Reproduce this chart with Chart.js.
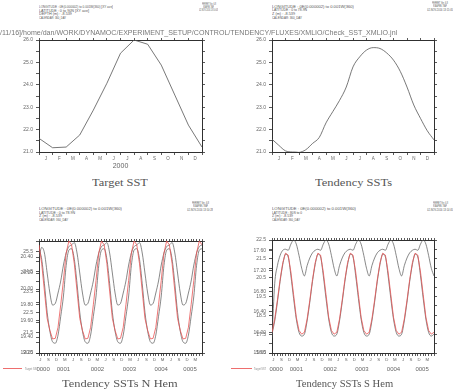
<!DOCTYPE html>
<html>
<head>
<meta charset="utf-8">
<script src="https://cdn.jsdelivr.net/npm/chart.js@4.4.1/dist/chart.umd.min.js"></script>
<style>
  html, body { margin: 0; padding: 0; background: #fff; }
  body { position: relative; width: 453px; height: 389px; overflow: hidden; }
  canvas { position: absolute; }
  .txt { position: absolute; white-space: pre; line-height: 1; transform-origin: 0 0; }
  .key { position: absolute; height: 1px; background: rgb(238, 110, 110); }
</style>
</head>
<body>
<canvas id="target" width="210" height="142" style="left:0px;top:34px"></canvas>
<canvas id="tend" width="212" height="142" style="left:230px;top:34px"></canvas>
<canvas id="nhem" width="210" height="140" style="left:0px;top:235px"></canvas>
<canvas id="shem" width="212" height="141" style="left:230px;top:234px"></canvas>
<div class="key" style="left:3px;top:368px;width:19px"></div>
<div class="key" style="left:231px;top:368px;width:21px"></div>
<script>
// ---------- data ----------
const monthLetters = ['J', 'F', 'M', 'A', 'M', 'J', 'J', 'A', 'S', 'O', 'N', 'D'];

// Target SST, year 2000 (month starts, 0 = 1 Jan)
const targetTime = [0, 1, 2, 3, 4, 5, 6, 7, 8, 9, 10, 11, 12];
const targetSst = [21.61, 21.19, 21.22, 21.76, 22.87, 24.07, 25.41, 26.00, 25.81, 24.88, 23.54, 22.20, 21.22];

// Tendency SSTs
const tendTime = [0, 0.5, 1, 1.5, 2, 2.5, 3, 3.5, 4, 4.5, 5, 5.5, 6, 6.5, 7, 7.5, 8, 8.5, 9, 9.5, 10, 10.5, 11, 11.5, 12];
const tendSst = [21.57, 21.30, 21.05, 21.00, 20.98, 21.10, 21.38, 21.65, 22.30, 22.80, 23.30, 23.90, 24.80,
                 25.25, 25.55, 25.66, 25.62, 25.42, 25.10, 24.60, 23.90, 23.10, 22.50, 21.95, 21.54];

// 5-year runs, months since Jan 0000 (Sep 0000 .. Sep 0005)
const hemTime = [];
for (let t = 8; t <= 68; t++) hemTime.push(t);

const nhTarget = [
  25.81, 24.88, 23.54, 22.20, 21.61, 21.19, 21.22, 21.76, 22.87, 24.07, 25.41, 26.00,
  25.81, 24.88, 23.54, 22.20, 21.61, 21.19, 21.22, 21.76, 22.87, 24.07, 25.41, 26.00,
  25.81, 24.88, 23.54, 22.20, 21.61, 21.19, 21.22, 21.76, 22.87, 24.07, 25.41, 26.00,
  25.81, 24.88, 23.54, 22.20, 21.61, 21.19, 21.22, 21.76, 22.87, 24.07, 25.41, 26.00,
  25.81, 24.88, 23.54, 22.20, 21.61, 21.19, 21.22, 21.76, 22.87, 24.07, 25.41, 26.00,
  25.81];
const nhRunA = [
  25.62, 25.10, 23.90, 22.50, 21.57, 21.05, 20.98, 21.38, 22.30, 23.30, 24.80, 25.55,
  25.62, 25.10, 23.90, 22.50, 21.57, 21.05, 20.98, 21.38, 22.30, 23.30, 24.80, 25.55,
  25.62, 25.10, 23.90, 22.50, 21.57, 21.05, 20.98, 21.38, 22.30, 23.30, 24.80, 25.55,
  25.62, 25.10, 23.90, 22.50, 21.57, 21.05, 20.98, 21.38, 22.30, 23.30, 24.80, 25.55,
  25.62, 25.10, 23.90, 22.50, 21.57, 21.05, 20.98, 21.38, 22.30, 23.30, 24.80, 25.55,
  25.62];
const nhRunB = [
  20.39, 20.52, 20.45, 20.20, 19.95, 19.80, 19.82, 19.95, 20.10, 20.30, 20.45, 20.53,
  20.55, 20.58, 20.45, 20.20, 19.95, 19.80, 19.82, 19.95, 20.10, 20.30, 20.45, 20.53,
  20.55, 20.58, 20.45, 20.20, 19.95, 19.80, 19.82, 19.95, 20.10, 20.30, 20.45, 20.53,
  20.55, 20.58, 20.45, 20.20, 19.95, 19.80, 19.82, 19.95, 20.10, 20.30, 20.45, 20.53,
  20.55, 20.58, 20.45, 20.20, 19.95, 19.80, 19.82, 19.95, 20.10, 20.30, 20.45, 20.53,
  20.55];

const shTarget = [
  17.6, 18.3, 19.3, 20.4, 21.3, 21.8, 21.7, 20.8, 19.6, 18.4, 17.7, 17.5,
  17.6, 18.3, 19.3, 20.4, 21.3, 21.8, 21.7, 20.8, 19.6, 18.4, 17.7, 17.5,
  17.6, 18.3, 19.3, 20.4, 21.3, 21.8, 21.7, 20.8, 19.6, 18.4, 17.7, 17.5,
  17.6, 18.3, 19.3, 20.4, 21.3, 21.8, 21.7, 20.8, 19.6, 18.4, 17.7, 17.5,
  17.6, 18.3, 19.3, 20.4, 21.3, 21.8, 21.7, 20.8, 19.6, 18.4, 17.7, 17.5,
  17.6];
const shRunA = [
  17.5, 18.2, 19.2, 20.3, 21.2, 21.75, 21.6, 20.6, 19.4, 18.3, 17.6, 17.4,
  17.5, 18.2, 19.2, 20.3, 21.2, 21.75, 21.6, 20.6, 19.4, 18.3, 17.6, 17.4,
  17.5, 18.2, 19.2, 20.3, 21.2, 21.75, 21.6, 20.6, 19.4, 18.3, 17.6, 17.4,
  17.5, 18.2, 19.2, 20.3, 21.2, 21.75, 21.6, 20.6, 19.4, 18.3, 17.6, 17.4,
  17.5, 18.2, 19.2, 20.3, 21.2, 21.75, 21.6, 20.6, 19.4, 18.3, 17.6, 17.4,
  17.5];
const shRunB = [
  15.90, 16.95, 17.30, 17.50, 17.60, 17.62, 17.60, 17.72, 17.80, 17.72, 17.50, 17.25,
  17.10, 17.30, 17.45, 17.55, 17.60, 17.62, 17.60, 17.72, 17.80, 17.72, 17.50, 17.25,
  17.10, 17.30, 17.45, 17.55, 17.60, 17.62, 17.60, 17.72, 17.80, 17.72, 17.50, 17.25,
  17.10, 17.30, 17.45, 17.55, 17.60, 17.62, 17.60, 17.72, 17.80, 17.72, 17.50, 17.25,
  17.10, 17.30, 17.45, 17.55, 17.60, 17.62, 17.60, 17.72, 17.80, 17.72, 17.50, 17.25,
  17.10];

// tick values / labels
const sstTicks = [21, 21.5, 22, 22.5, 23, 23.5, 24, 24.5, 25, 25.5, 26];
const sstLabels = [21, 22, 23, 24, 25, 26];
const nhRedTicks = [20.5, 21, 21.5, 22, 22.5, 23, 23.5, 24, 24.5, 25, 25.5, 26];
const nhRedLabels = [20.5, 21.5, 22.5, 23.5, 24.5, 25.5];
const nhGrayLabels = [19.2, 19.4, 19.6, 19.8, 20.0, 20.2, 20.4];
const shRedTicks = [16.5, 17, 17.5, 18, 18.5, 19, 19.5, 20, 20.5, 21, 21.5, 22, 22.5];
const shRedLabels = [16.5, 17.5, 18.5, 19.5, 20.5, 21.5, 22.5];
const shGrayLabels = [15.6, 16.0, 16.4, 16.8, 17.2, 17.6];
const seasonLetters = ['S', 'D', 'M', 'J'];
const yearCentres = [9.5, 17, 29.5, 41.3, 53, 63.6];
const yearLabels = ['0000', '0001', '0002', '0003', '0004', '0005'];

// ---------- helpers ----------
const AXIS = '#303030';
const LABEL = '#666';
const LINE = '#555';
const RED = 'rgb(234, 84, 84)';
const SANS = '"Liberation Sans", Arial, sans-serif';
const SERIF = '"Liberation Serif", "DejaVu Serif", serif';

const near = (a, b) => Math.abs(a - b) < 1e-6;
const labelIf = (list, digits) => (v) => (list.some((u) => near(u, v)) ? Number(v).toFixed(digits) : '');
const isWhole = (v) => near(v, Math.round(v));

function linearAxis(o) {
  const vertical = o.position === 'left' || o.position === 'right';
  return {
    type: 'linear',
    axis: vertical ? 'y' : 'x',
    position: o.position,
    weight: o.weight || 0,
    min: o.min,
    max: o.max,
    afterFit: (s) => { if (vertical) s.width = o.size; else s.height = o.size; },
    afterBuildTicks: (s) => { s.ticks = o.ticks.map((v) => ({ value: v })); },
    grid: {
      drawOnChartArea: false,
      drawTicks: o.tickLength !== 0,
      tickLength: o.tickLength === undefined ? 3 : o.tickLength,
      tickWidth: 0.8,
      tickColor: o.marks ? (c) => (c.tick && o.marks(c.tick.value) ? AXIS : 'rgba(0,0,0,0)') : AXIS,
    },
    border: { display: o.border !== false, color: AXIS, width: 1 },
    ticks: {
      display: !!o.label,
      autoSkip: false, maxRotation: 0, minRotation: 0,
      padding: o.padding === undefined ? 2 : o.padding,
      color: LABEL,
      font: { family: SANS, size: o.fontSize || 5 },
      callback: o.label || (() => ''),
    },
    title: o.title || { display: false },
  };
}

// the second left axis has no width of its own: give it the same strip as 'y'
// so both sets of labels sit side by side in the left margin, as Ferret overlays do
const overlayLeftAxis = {
  id: 'overlayLeftAxis',
  afterLayout(chart) {
    const s = chart.scales.y2;
    if (s) s.left = chart.scales.y.left;
  },
};

function series(xs, ys, color, width, yAxisID, smooth) {
  return {
    data: xs.map((x, i) => ({ x, y: ys[i] })),
    borderColor: color, borderWidth: width, pointRadius: 0, fill: false,
    xAxisID: 'x', yAxisID,
    tension: smooth ? 0.4 : 0,
    cubicInterpolationMode: smooth ? 'monotone' : 'default',
  };
}

function draw(id, datasets, scales) {
  return new Chart(document.getElementById(id), {
    type: 'line',
    data: { datasets },
    options: {
      responsive: false, animation: false, events: [],
      layout: { padding: 0 },
      plugins: { legend: { display: false }, tooltip: { enabled: false } },
      scales,
    },
    plugins: [overlayLeftAxis],
  });
}

// month ticks for a single year: boundaries carry marks, centres carry letters
const yearTicks = [];
for (let i = 0; i <= 24; i++) yearTicks.push(i / 2);
const monthBounds = yearTicks.filter(isWhole);
const monthLabel = (v) => (isWhole(v) ? '' : monthLetters[Math.floor(v)]);

// month ticks for the 5-year plots
const hemTicks = [];
for (let t = 8; t <= 68; t += 0.5) hemTicks.push(t);
const hemBounds = hemTicks.filter(isWhole);
const seasonLabel = (v) => {
  if (isWhole(v)) return '';
  const m = Math.floor(v) % 12;
  return m % 3 === 2 ? seasonLetters[((m + 1) / 3) % 4] : '';
};
const seasonTicks = hemTicks.filter((v) => isWhole(v) || Math.floor(v) % 3 === 2);
const yearLabel = (v) => yearLabels[yearCentres.findIndex((u) => near(u, v))];

// ---------- Target SST ----------
draw('target', [series(targetTime, targetSst, LINE, 0.8, 'y', false)], {
  x: linearAxis({ position: 'bottom', min: 0, max: 12, size: 24, ticks: yearTicks, marks: isWhole,
    label: monthLabel, fontSize: 4.5, padding: 1,
    title: { display: true, text: '2000', color: LABEL, font: { family: SANS, size: 7 }, padding: { top: 0, bottom: 5.5 } } }),
  xTop: linearAxis({ position: 'top', min: 0, max: 12, size: 6, ticks: monthBounds, tickLength: 2 }),
  y: linearAxis({ position: 'left', min: 21, max: 26, size: 39, ticks: sstTicks, label: labelIf(sstLabels, 1), padding: 3 }),
  yRight: linearAxis({ position: 'right', min: 21, max: 26, size: 8, ticks: sstTicks }),
});

// ---------- Tendency SSTs ----------
draw('tend', [series(tendTime, tendSst, LINE, 0.8, 'y', true)], {
  x: linearAxis({ position: 'bottom', min: 0, max: 12, size: 24, ticks: yearTicks, marks: isWhole,
    label: monthLabel, fontSize: 4.5, padding: 1 }),
  xTop: linearAxis({ position: 'top', min: 0, max: 12, size: 6, ticks: monthBounds, tickLength: 2 }),
  y: linearAxis({ position: 'left', min: 21, max: 26, size: 42, ticks: sstTicks, label: labelIf(sstLabels, 1), padding: 3 }),
  yRight: linearAxis({ position: 'right', min: 21, max: 26, size: 8, ticks: sstTicks }),
});

// ---------- Tendency SSTs N Hem ----------
draw('nhem', [
  series(hemTime, nhTarget, RED, 0.8, 'y', false),
  series(hemTime, nhRunA, LINE, 0.7, 'y', true),
  series(hemTime, nhRunB, LINE, 0.7, 'y2', true),
], {
  x: linearAxis({ position: 'bottom', weight: 0, min: 8, max: 68, size: 11, ticks: seasonTicks, marks: isWhole,
    label: seasonLabel, fontSize: 4.3, padding: 1.5 }),
  xYear: linearAxis({ position: 'bottom', weight: 1, min: 8, max: 68, size: 11, ticks: yearCentres, tickLength: 0,
    border: false, label: yearLabel, fontSize: 6, padding: 2 }),
  xTop: linearAxis({ position: 'top', min: 8, max: 68, size: 6, ticks: hemBounds, tickLength: 2 }),
  y: linearAxis({ position: 'left', weight: 1, min: 20.5, max: 26, size: 39, ticks: nhRedTicks, label: labelIf(nhRedLabels, 1), padding: 3 }),
  y2: linearAxis({ position: 'left', weight: 0, min: 19.2, max: 20.6, size: 0, ticks: nhGrayLabels, label: labelIf(nhGrayLabels, 2), padding: 3, border: false }),
  yRight: linearAxis({ position: 'right', min: 20.5, max: 26, size: 8, ticks: nhRedTicks }),
});

// ---------- Tendency SSTs S Hem ----------
draw('shem', [
  series(hemTime, shTarget, RED, 0.8, 'y', false),
  series(hemTime, shRunA, LINE, 0.7, 'y', true),
  series(hemTime, shRunB, LINE, 0.7, 'y2', true),
], {
  x: linearAxis({ position: 'bottom', weight: 0, min: 8, max: 68, size: 11, ticks: seasonTicks, marks: isWhole,
    label: seasonLabel, fontSize: 4.3, padding: 1.5 }),
  xYear: linearAxis({ position: 'bottom', weight: 1, min: 8, max: 68, size: 11, ticks: yearCentres, tickLength: 0,
    border: false, label: yearLabel, fontSize: 6, padding: 2 }),
  xTop: linearAxis({ position: 'top', min: 8, max: 68, size: 6, ticks: hemBounds, tickLength: 2 }),
  y: linearAxis({ position: 'left', weight: 1, min: 16.5, max: 22.5, size: 42, ticks: shRedTicks, label: labelIf(shRedLabels, 1), padding: 3 }),
  y2: linearAxis({ position: 'left', weight: 0, min: 15.6, max: 17.8, size: 0, ticks: shGrayLabels, label: labelIf(shGrayLabels, 2), padding: 3, border: false }),
  yRight: linearAxis({ position: 'right', min: 16.5, max: 22.5, size: 8, ticks: shRedTicks }),
});

// ---------- text ----------
function addText(str, o) {
  const el = document.createElement('div');
  el.className = 'txt';
  el.textContent = str;
  el.style.fontFamily = o.family || SANS;
  el.style.fontSize = '20px';
  el.style.color = o.color || '#555';
  document.body.appendChild(el);
  const natW = el.offsetWidth;
  const sy = o.size / 20;
  const sx = o.width ? o.width / natW : sy;
  const w = natW * sx;
  let left = o.x;
  if (o.align === 'center') left -= w / 2;
  if (o.align === 'right') left -= w;
  el.style.left = left + 'px';
  el.style.top = (o.y - o.size / 2) + 'px';
  el.style.transform = 'scale(' + sx + ',' + sy + ')';
}

function header(x, y, lines, widths, size) {
  lines.forEach((s, i) => addText(s, { x, y: y + i * 3.6, size, width: widths[i] }));
}
function stamp(cx, y, date, widths) {
  ['FERRET Ver. 6.8', 'NOAA/PMEL TMAP', date].forEach((s, i) =>
    addText(s, { x: cx, y: y + i * 3.2, size: 3, width: widths[i], align: 'center' }));
}

header(39, 6.8, ['LONGITUDE : 0E(0.000002) to 0.001W(360) [XY ave]', 'LATITUDE : 0 to 90N [XY ave]',
  'DEPTH (m) : -8.539', 'CALENDAR: 360_DAY'], [74, 50, 33, 27], 3.6);
stamp(208.5, 3, '02-NOV-2016 13:50:43', [14, 11, 19]);

header(272, 6.7, ['LONGITUDE : 0E(0.000002) to 0.001W(360)', 'LATITUDE : 0 to 78.9N',
  'Z (m) : -8.539', 'CALENDAR: 360_DAY'], [82, 35, 23, 30], 3.8);
stamp(440, 2.7, '02-NOV-2016 13:15:05', [16, 14, 26]);

header(39, 209, ['LONGITUDE : 0E(0.000002) to 0.001W(360)', 'LATITUDE : 0 to 78.9N',
  'Z (m) : -8.539', 'CALENDAR: 360_DAY'], [83, 36, 23, 29], 3.8);
stamp(200, 202.7, '02-NOV-2016 13:50:28', [17, 15, 26]);

header(272, 209, ['LONGITUDE : 0E(0.000002) to 0.001W(360)', 'LATITUDE : 80S to 0',
  'Z (m) : -8.539', 'CALENDAR: 360_DAY'], [84, 30, 21, 28], 3.8);
stamp(440, 202.7, '02-NOV-2016 13:14:05', [15, 14, 26]);

addText('/11/16]/home/dan/WORK/DYNAMOC/EXPERIMENT_SETUP/CONTROL/TENDENCY/FLUXES/XMLIO/Check_SST_XMLIO.jnl',
  { x: 0, y: 32.8, size: 7.6, width: 397, color: '#777' });

addText('Target SST', { x: 120, y: 181.8, size: 10.5, width: 56, align: 'center', family: SERIF, color: '#555' });
addText('Tendency SSTs', { x: 353.5, y: 181.8, size: 10.5, width: 77, align: 'center', family: SERIF, color: '#555' });
addText('Tendency SSTs N Hem', { x: 120, y: 383.3, size: 10.5, width: 116, align: 'center', family: SERIF, color: '#555' });
addText('Tendency SSTs S Hem', { x: 344.5, y: 383.3, size: 9.5, width: 97, align: 'center', family: SERIF, color: '#555' });

addText('Target SST', { x: 25, y: 369, size: 3.2, width: 13, color: '#888' });
addText('Target SST', { x: 254, y: 369, size: 3.2, width: 12, color: '#888' });
</script>
</body>
</html>
